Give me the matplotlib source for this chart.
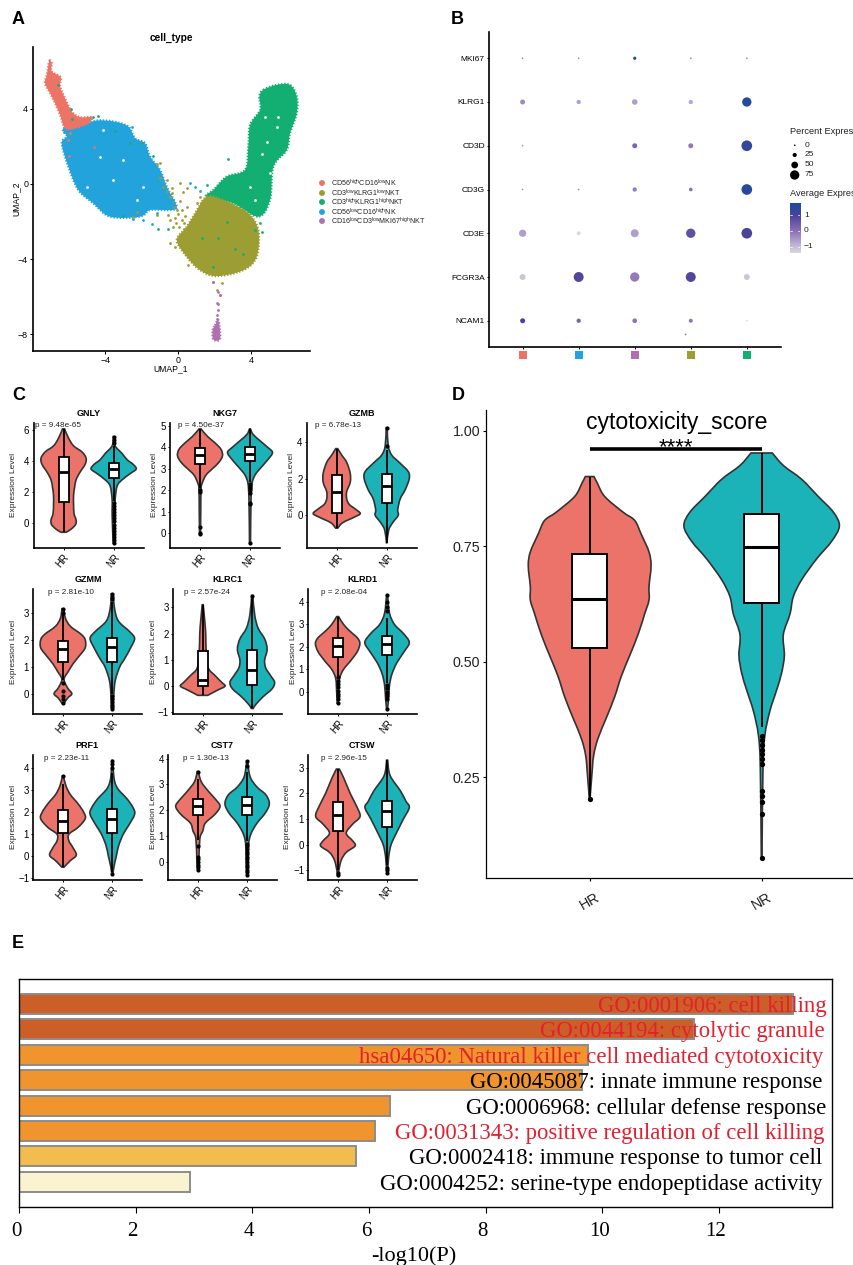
import numpy as np
import matplotlib
matplotlib.use("Agg")
import matplotlib.pyplot as plt
from matplotlib.path import Path
from matplotlib.patches import PathPatch, Rectangle
from matplotlib.colors import LinearSegmentedColormap
from matplotlib.transforms import ScaledTranslation

plt.rcParams["font.family"] = ["Liberation Sans", "DejaVu Sans"]
plt.rcParams["mathtext.default"] = "regular"

W, H = 854, 1265
SALMON = "#EC7369"
TEAL = "#1BB3B8"

cell_types = ["CD56$^{high}$CD16$^{low}$NK", "CD3$^{low}$KLRG1$^{low}$NKT", "CD3$^{high}$KLRG1$^{high}$NKT",
              "CD56$^{low}$CD16$^{high}$NK", "CD16$^{low}$CD3$^{low}$MKI67$^{high}$NKT"]
type_colors = ["#EC7467", "#9C9D33", "#13AF72", "#22A3DC", "#B06FAE"]

red_hull = [(-7.07, 6.57), (-6.94, 6.44), (-6.94, 6.0), (-6.45, 5.69), (-6.48, 5.2), (-6.21, 4.57), (-5.84, 3.86),
            (-5.38, 3.56), (-4.74, 3.56), (-4.93, 3.24), (-5.66, 2.97), (-6.21, 2.97), (-6.48, 3.68), (-6.76, 4.31),
            (-7.03, 4.84), (-7.31, 5.37), (-7.22, 5.77), (-7.16, 6.09)]
blue_hull = [(-6.3, 2.97), (-5.29, 3.15), (-4.47, 3.38), (-3.55, 3.33), (-2.73, 3.06), (-2.36, 2.44), (-1.81, 2.17),
             (-1.54, 1.46), (-0.99, 0.75), (-0.62, -0.14), (-0.07, -1.21), (-0.44, -1.39), (-1.54, -1.39),
             (-2.09, -1.74), (-3.74, -1.74), (-4.65, -1.03), (-5.48, -0.32), (-6.03, 0.93), (-6.39, 2.17), (-6.12, 2.53)]
green_hull = [(4.69, 5.02), (5.42, 5.28), (6.15, 5.28), (6.52, 4.66), (6.52, 3.77), (6.15, 2.7), (5.97, 1.81),
              (5.24, 0.93), (5.05, -0.85), (4.41, -1.74), (3.04, -1.03), (1.58, -0.68), (1.94, -0.32), (2.67, 0.39),
              (3.68, 0.75), (3.86, 1.99), (3.96, 3.15), (4.51, 3.95), (4.47, 4.66)]
olive_hull = [(1.58, -0.68), (2.67, -0.94), (3.86, -1.57), (4.41, -2.46), (4.32, -3.88), (3.59, -4.59), (2.12, -4.91),
              (1.21, -4.59), (0.48, -3.88), (-0.07, -2.99), (0.48, -2.28), (0.93, -1.57)]
purple_hull = [(2.03, -7.53), (2.22, -7.26), (2.31, -8.24), (1.94, -8.29), (1.9, -7.79)]

olive_cells = [(-0.62, 0.21), (-0.99, 1.1), (-0.81, -0.14), (-0.35, -0.23), (0.11, 0.07), (0.48, -0.23), (0.29, -0.41),
               (-0.44, -0.68), (-0.07, -1.39), (0.48, -1.21), (1.03, -1.03), (1.21, -0.68), (-1.17, -1.65),
               (-2.45, -1.74), (-2.27, -1.48), (-0.44, -3.17), (-0.16, -3.35), (0.57, -4.32), (1.94, -5.21),
               (2.4, -5.27), (2.12, -5.66), (2.31, -5.93), (-0.44, -1.92), (-0.26, -2.28), (-0.53, -1.65),
               (-0.99, 0.3), (-2.0, 2.17), (-1.17, 1.07), (-0.3, -0.9), (0.0, -1.6), (0.2, -1.9), (-0.1, -2.1),
               (0.3, -2.4), (-0.35, -0.5), (0.1, -0.9), (0.2, -1.4), (0.4, -1.7), (-0.15, -1.8), (0.05, -2.3),
               (-0.25, -1.2), (0.35, -2.1), (-0.6, -0.4)]
green_cells = [(2.73, 1.32), (-6.58, 5.28), (-5.9, 4.0), (-5.84, 3.45), (-4.65, 3.59), (-4.38, 3.63), (-3.46, 2.85),
               (-2.64, 2.17), (-2.0, 2.21), (-1.39, 1.51), (-3.0, -1.71), (1.3, -2.9), (2.22, -2.9), (1.94, -4.41),
               (3.13, -3.49), (3.59, -3.74), (4.51, -2.1), (4.6, -2.54), (4.23, -2.46), (1.58, -0.05), (2.67, -2.01),
               (-1.08, -2.42), (-0.53, -2.42)]
blue_cells = [(0.66, 0.07), (1.21, -0.36), (0.93, -0.14), (-0.26, -0.85), (-0.62, -1.3), (-1.45, -2.14), (-1.9, -1.92),
              (-2.45, -1.87), (-0.44, -1.03), (-0.81, -0.68), (-1.17, -1.57), (-2.55, 3.06), (-6.26, 2.79)]
red_cells = [(-4.6, 1.99), (-5.99, 1.49), (-6.03, 2.35), (-5.93, 2.7)]
purple_cells = [(1.94, -5.21), (2.22, -5.75), (2.31, -5.93), (2.12, -6.33), (2.22, -6.37), (2.22, -6.73), (2.16, -6.99),
                (2.16, -7.22)]
gap_cells = [(5.42, 3.06), (4.87, 2.26), (4.6, 1.58), (5.05, 0.57), (3.96, -0.14), (5.51, 3.59), (4.23, -0.85),
             (4.78, 3.59), (-2.27, -0.85), (-3.55, 0.21), (-4.29, 1.46), (-5.02, -0.14), (-1.92, -0.14), (-4.12, 2.88),
             (-3.0, 1.28)]

# ---- panel B
dot_genes = ["NCAM1", "FCGR3A", "CD3E", "CD3G", "CD3D", "KLRG1", "MKI67"]
dot_colors = ["#EC7467", "#22A3DC", "#B06FAE", "#9C9D33", "#13AF72"]
dot_pct = [[33, 26, 30, 23, 1],
           [42, 81, 75, 81, 42],
           [55, 23, 62, 75, 88],
           [1, 1, 26, 20, 88],
           [1, np.nan, 33, 33, 88],
           [33, 26, 39, 26, 75],
           [1, 1, 16, 1, 1]]
dot_avg = [[1.2, 0.3, 0.0, 0.0, -1.4],
           [-1.1, 0.9, -0.1, 0.9, -1.1],
           [-0.6, -1.4, -0.6, 0.7, 1.0],
           [-0.4, -0.3, -0.1, 0.0, 1.6],
           [-0.5, np.nan, 0.3, -0.1, 1.4],
           [-0.3, -0.6, -0.6, -0.7, 1.6],
           [-0.3, -0.3, 1.7, -0.3, -0.3]]
stray_dot = (2.9, -0.3, 1, 0.0)
pct_legend = [0, 25, 50, 75]
avg_colors = ["#D9D9D9", "#C6BCDA", "#8E73B5", "#4B429A", "#1C4DA0"]

# ---- panel C, violin profiles: value, half width
gnly_hr = [(6.1, .02), (5.5, .1), (5.0, .2), (4.6, .37), (4.2, .45), (3.8, .43), (3.3, .33), (2.8, .25), (2.3, .22),
           (1.8, .2), (1.2, .2), (0.6, .21), (0.2, .25), (-0.1, .24), (-0.4, .15), (-0.6, .05)]
gnly_nr = [(5.6, .007), (5.0, .03), (4.5, .17), (4.1, .27), (3.8, .39), (3.5, .45), (3.2, .33), (2.8, .17), (2.4, .07),
           (1.5, .03), (0.5, .03), (-1.3, .01)]
gnly_hr_box = [-0.6, 1.35, 3.3, 4.3, 6.1]
gnly_nr_box = [1.4, 2.9, 3.5, 3.9, 5.0]
gnly_hr_out = []
gnly_nr_out = [5.6, 5.4, 5.2, 1.3, 1.1, .9, .7, .5, .3, .1, -.1, -.3, -.5, -.7, -.9, -1.1, -1.3]

nkg7_hr = [(4.85, .02), (4.5, .15), (4.2, .3), (3.9, .42), (3.6, .45), (3.3, .38), (3.0, .25), (2.7, .12), (2.3, .04),
           (2.0, .02), (1.0, .015), (0.0, .01)]
nkg7_nr = [(4.85, .01), (4.6, .06), (4.3, .2), (4.0, .35), (3.75, .45), (3.4, .35), (3.0, .2), (2.7, .1), (2.3, .04),
           (1.5, .02), (-0.45, .01)]
nkg7_hr_box = [2.1, 3.2, 3.65, 3.95, 4.85]
nkg7_nr_box = [2.4, 3.35, 3.7, 4.0, 4.85]
nkg7_hr_out = [2.0, 1.9, 0.3, 0.0, -0.05]
nkg7_nr_out = [2.3, 2.2, 2.1, 2.0, 1.85, 1.4, 1.35, -0.45]

gzmb_hr = [(3.65, .02), (3.3, .1), (2.9, .2), (2.3, .27), (1.8, .27), (1.3, .2), (0.9, .2), (0.6, .25), (0.35, .37),
           (0.1, .47), (-0.1, .35), (-0.4, .12), (-0.7, .02)]
gzmb_nr = [(4.8, .01), (3.8, .03), (3.3, .1), (2.9, .25), (2.4, .43), (2.0, .45), (1.4, .37), (0.9, .27), (0.3, .22),
           (0.0, .23), (-0.4, .12), (-0.8, .04), (-1.5, .005)]
gzmb_hr_box = [-0.7, 0.15, 1.3, 2.2, 3.65]
gzmb_nr_box = [-1.5, 0.65, 1.6, 2.25, 3.6]
gzmb_hr_out = []
gzmb_nr_out = [4.8, 3.8]

gzmm_hr = [(3.15, .02), (2.8, .05), (2.5, .15), (2.2, .37), (2.0, .45), (1.7, .45), (1.4, .33), (1.1, .2), (0.8, .1),
           (0.6, .03), (0.45, .03), (0.2, .1), (0.0, .18), (-0.15, .1), (-0.35, .02)]
gzmm_nr = [(3.7, .02), (3.2, .04), (2.7, .12), (2.3, .35), (2.05, .45), (1.7, .37), (1.3, .25), (1.0, .15), (0.5, .06),
           (0.0, .03), (-0.5, .02)]
gzmm_hr_box = [0.5, 1.17, 1.65, 1.97, 2.9]
gzmm_nr_box = [0.0, 1.17, 1.72, 2.08, 3.4]
gzmm_hr_out = [3.0, 3.15, 0.4, 0.1, -0.1, -0.2, -0.35]
gzmm_nr_out = [3.7, 3.6, 3.5, -0.1, -0.2, -0.3, -0.4, -0.5, -0.55]

klrc1_hr = [(3.1, .01), (2.5, .04), (2.0, .06), (1.3, .07), (0.7, .11), (0.4, .25), (0.15, .38), (0.0, .45), (-0.15, .3),
            (-0.35, .1)]
klrc1_nr = [(3.45, .01), (2.7, .05), (2.2, .12), (1.8, .25), (1.4, .3), (1.0, .25), (0.7, .27), (0.4, .37), (0.15, .45),
            (-0.1, .4), (-0.4, .22), (-0.7, .07), (-0.85, .02)]
klrc1_hr_box = [-0.35, 0.0, 0.22, 1.35, 3.1]
klrc1_nr_box = [-0.85, 0.03, 0.62, 1.37, 3.45]
klrc1_hr_out = []
klrc1_nr_out = [3.45]

klrd1_hr = [(3.35, .02), (3.0, .12), (2.7, .25), (2.4, .4), (2.15, .45), (1.8, .4), (1.4, .27), (1.0, .12), (0.6, .04),
            (0.0, .02), (-0.5, .01)]
klrd1_nr = [(4.3, .01), (3.5, .05), (3.0, .15), (2.6, .33), (2.2, .45), (1.8, .35), (1.3, .2), (0.8, .1), (0.3, .05),
            (-0.3, .03), (-0.75, .01)]
klrd1_hr_box = [0.7, 1.57, 2.05, 2.4, 3.35]
klrd1_nr_box = [0.4, 1.63, 2.12, 2.5, 3.3]
klrd1_hr_out = [.65, .5, .35, .2, .05, -.1, -.2, -.3, -.5]
klrd1_nr_out = [4.3, 4.0, 3.8, 3.6, .3, .15, 0, -.1, -.2, -.3, -.75]

prf1_hr = [(3.65, .01), (3.2, .06), (2.8, .15), (2.4, .3), (2.0, .42), (1.7, .45), (1.3, .3), (1.0, .12), (0.7, .12),
           (0.4, .2), (0.05, .27), (-0.2, .15), (-0.5, .02)]
prf1_nr = [(4.35, .01), (3.6, .03), (3.1, .1), (2.6, .3), (2.2, .42), (1.9, .45), (1.4, .33), (1.0, .22), (0.5, .13),
           (0.0, .08), (-0.5, .03), (-0.85, .01)]
prf1_hr_box = [-0.5, 1.07, 1.62, 2.08, 3.3]
prf1_nr_box = [-0.7, 1.05, 1.68, 2.15, 3.8]
prf1_hr_out = [3.65]
prf1_nr_out = [4.35, 4.2, 4.0, -0.8]

cst7_hr = [(3.5, .01), (3.1, .07), (2.7, .23), (2.4, .37), (2.15, .45), (1.85, .35), (1.5, .15), (1.2, .1), (0.9, .04),
           (0.0, .02), (-0.3, .01)]
cst7_nr = [(3.9, .01), (3.3, .06), (2.9, .2), (2.6, .38), (2.25, .45), (1.9, .37), (1.5, .2), (1.1, .08), (0.7, .03),
           (0.0, .02), (-0.5, .01)]
cst7_hr_box = [0.85, 1.8, 2.15, 2.45, 3.2]
cst7_nr_box = [0.8, 1.8, 2.2, 2.5, 3.5]
cst7_hr_out = [3.5, 0.6, 0.2, 0.1, 0.0, -0.1, -0.2, -0.3]
cst7_nr_out = [3.9, 3.7, .7, .6, .5, .4, .3, .2, .1, 0, -.1, -.2, -.3, -.4, -.5]

ctsw_hr = [(2.95, .03), (2.6, .12), (2.0, .25), (1.5, .38), (1.1, .45), (0.8, .3), (0.45, .17), (0.15, .3), (-0.05, .35),
           (-0.3, .17), (-0.6, .07), (-1.0, .02), (-1.2, .01)]
ctsw_nr = [(3.3, .01), (2.7, .06), (2.1, .27), (1.7, .38), (1.45, .45), (1.0, .33), (0.5, .2), (0.0, .08), (-0.5, .03),
           (-1.1, .01)]
ctsw_hr_box = [-1.0, 0.53, 1.15, 1.65, 2.95]
ctsw_nr_box = [-0.8, 0.7, 1.3, 1.72, 3.3]
ctsw_hr_out = [-1.1, -1.2]
ctsw_nr_out = [-0.9, -1.0, -1.1]

gene_titles = ["GNLY", "NKG7", "GZMB", "GZMM", "KLRC1", "KLRD1", "PRF1", "CST7", "CTSW"]
gene_p = ["p = 9.48e-65", "p = 4.50e-37", "p = 6.78e-13", "p = 2.81e-10", "p = 2.57e-24", "p = 2.08e-04",
          "p = 2.23e-11", "p = 1.30e-13", "p = 2.96e-15"]
gene_ylim = [(-1.6, 6.5), (-0.68, 5.14), (-1.77, 5.07), (-0.75, 3.88), (-1.06, 3.7), (-0.99, 4.58), (-1.08, 4.6),
             (-0.7, 4.14), (-1.38, 3.5)]
gene_ticks = [[0, 2, 4, 6], [0, 1, 2, 3, 4, 5], [0, 2, 4], [0, 1, 2, 3], [-1, 0, 1, 2, 3], [0, 1, 2, 3, 4],
              [-1, 0, 1, 2, 3, 4], [0, 1, 2, 3, 4], [-1, 0, 1, 2, 3]]
gene_hr = [gnly_hr, nkg7_hr, gzmb_hr, gzmm_hr, klrc1_hr, klrd1_hr, prf1_hr, cst7_hr, ctsw_hr]
gene_nr = [gnly_nr, nkg7_nr, gzmb_nr, gzmm_nr, klrc1_nr, klrd1_nr, prf1_nr, cst7_nr, ctsw_nr]
gene_hr_box = [gnly_hr_box, nkg7_hr_box, gzmb_hr_box, gzmm_hr_box, klrc1_hr_box, klrd1_hr_box, prf1_hr_box, cst7_hr_box, ctsw_hr_box]
gene_nr_box = [gnly_nr_box, nkg7_nr_box, gzmb_nr_box, gzmm_nr_box, klrc1_nr_box, klrd1_nr_box, prf1_nr_box, cst7_nr_box, ctsw_nr_box]
gene_hr_out = [gnly_hr_out, nkg7_hr_out, gzmb_hr_out, gzmm_hr_out, klrc1_hr_out, klrd1_hr_out, prf1_hr_out, cst7_hr_out, ctsw_hr_out]
gene_nr_out = [gnly_nr_out, nkg7_nr_out, gzmb_nr_out, gzmm_nr_out, klrc1_nr_out, klrd1_nr_out, prf1_nr_out, cst7_nr_out, ctsw_nr_out]

# ---- panel D
score_hr = [(.901, .025), (.888, .043), (.858, .087), (.824, .194), (.806, .262), (.776, .30), (.738, .345), (.708, .357),
            (.663, .345), (.634, .345), (.604, .32), (.559, .281), (.514, .233), (.469, .184), (.424, .145), (.379, .097),
            (.334, .048), (.297, .023), (.252, .012), (.204, .002)]
score_nr = [(.952, .062), (.925, .126), (.895, .233), (.858, .329), (.824, .417), (.794, .452), (.761, .407), (.723, .32),
            (.678, .233), (.641, .184), (.604, .165), (.559, .126), (.514, .132), (.476, .116), (.439, .087), (.394, .048),
            (.342, .019), (.275, .008), (.076, .002)]
score_hr_box = [.204, .531, .637, .733, .901]
score_nr_box = [.36, .628, .749, .819, .952]
score_hr_out = [.204]
score_nr_out = [.34, .33, .32, .31, .30, .29, .28, .22, .21, .196, .172, .076]

# ---- panel E
terms = ["GO:0001906: cell killing", "GO:0044194: cytolytic granule", "hsa04650: Natural killer cell mediated cytotoxicity",
         "GO:0045087: innate immune response", "GO:0006968: cellular defense response",
         "GO:0031343: positive regulation of cell killing", "GO:0002418: immune response to tumor cell",
         "GO:0004252: serine-type endopeptidase activity"]
log_p = [13.27, 11.58, 9.75, 9.65, 6.36, 6.1, 5.78, 2.93]
bar_colors = ["#CC5F28", "#CC5F28", "#F0952E", "#F0952E", "#F0952E", "#F0952E", "#F2BC4F", "#F9F3D2"]
term_colors = ["#E5202E", "#E5202E", "#E5202E", "black", "black", "#E5202E", "black", "black"]
term_right = [13.84, 13.81, 13.79, 13.77, 13.84, 13.81, 13.77, 13.77]


def axes_px(l, t, r, b):
    return fig.add_axes([l / W, 1 - b / H, (r - l) / W, (b - t) / H])


def clean(ax, lw=1.0):
    for s in ["top", "right"]:
        ax.spines[s].set_visible(False)
    for s in ["left", "bottom"]:
        ax.spines[s].set_linewidth(lw)


def curve_through(pts, closed=False):
    # bezier segments through every read point
    p = np.array(pts, dtype=float)
    n = len(p)
    verts = []
    last = n if closed else n - 1
    for i in range(last):
        if closed:
            a, b, c, d = p[(i - 1) % n], p[i], p[(i + 1) % n], p[(i + 2) % n]
        else:
            a, b, c, d = p[max(i - 1, 0)], p[i], p[i + 1], p[min(i + 2, n - 1)]
        verts += [tuple(b + (c - a) / 6), tuple(c - (d - b) / 6), tuple(c)]
    return verts


def violin_path(c, prof):
    right = [(c + w, y) for y, w in prof]
    left = [(c - w, y) for y, w in prof][::-1]
    verts = [right[0]] + curve_through(right) + [left[0]] + curve_through(left) + [right[0]]
    codes = [Path.MOVETO] + [Path.CURVE4] * (3 * (len(right) - 1)) + [Path.LINETO] + [Path.CURVE4] * (3 * (len(left) - 1)) + [Path.CLOSEPOLY]
    return Path(verts, codes)


def hull_path(hull):
    segs = curve_through(hull, closed=True)
    verts = [segs[-1]] + segs
    codes = [Path.MOVETO] + [Path.CURVE4] * len(segs)
    return Path(verts, codes)


def violin(ax, c, prof, box, out, color, lw, box_w, box_lw, med_lw, ms):
    ax.add_patch(PathPatch(violin_path(c, prof), facecolor=color, edgecolor="#333333", lw=lw, zorder=2))
    lo, q1, med, q3, hi = box
    ax.plot([c, c], [lo, hi], color="black", lw=box_lw, zorder=3, solid_capstyle="butt")
    if len(out) > 0:
        ax.plot([c] * len(out), out, "o", color="black", ms=ms, mew=0, zorder=3)
    ax.add_patch(Rectangle((c - box_w / 2, q1), box_w, q3 - q1, facecolor="white", edgecolor="black", lw=box_lw, zorder=4))
    ax.plot([c - box_w / 2, c + box_w / 2], [med, med], color="black", lw=med_lw, zorder=5, solid_capstyle="butt")


fig = plt.figure(figsize=(W / 100, H / 100), dpi=100)

# ---- A
ax = axes_px(33, 47, 310, 351)
hulls = [(blue_hull, type_colors[3]), (red_hull, type_colors[0]), (green_hull, type_colors[2]),
         (olive_hull, type_colors[1]), (purple_hull, type_colors[4])]
for hull, col in hulls:
    ax.add_patch(PathPatch(hull_path(hull), facecolor=col, edgecolor=col, lw=1.6, ls=(0, (0.6, 0.8)), zorder=2))
cells = [(olive_cells, type_colors[1]), (blue_cells, type_colors[3]), (green_cells, type_colors[2]),
         (red_cells, type_colors[0]), (purple_cells, type_colors[4]), (gap_cells, "white")]
for pts, col in cells:
    ax.scatter([p[0] for p in pts], [p[1] for p in pts], s=4, color=col, linewidths=0, zorder=3)
ax.set_xlim(-7.97, 7.25)
ax.set_ylim(-8.9, 7.3)
ax.set_xticks([-4, 0, 4])
ax.set_yticks([-8, -4, 0, 4])
ax.tick_params(labelsize=6.4, length=2, width=0.7, pad=1.5)
clean(ax, 1.2)

# ---- B
ax = axes_px(489, 32, 781, 347)
cols, rows = np.meshgrid(np.arange(5), np.arange(7))
pct = np.array(dot_pct, dtype=float)
avg = np.array(dot_avg, dtype=float)
avg_cmap = LinearSegmentedColormap.from_list("avg", list(zip([0, .12, .43, .75, 1], avg_colors)))


def pct_size(p):
    return (np.asarray(p, dtype=float) * 0.103 + 1.6) ** 2 * 0.72 ** 2


ax.scatter(cols.ravel(), rows.ravel(), s=pct_size(pct.ravel()), c=avg.ravel(), cmap=avg_cmap, vmin=-1.38, vmax=1.8, linewidths=0)
ax.scatter([stray_dot[0]], [stray_dot[1]], s=pct_size(stray_dot[2]), c=[stray_dot[3]], cmap=avg_cmap, vmin=-1.38, vmax=1.8, linewidths=0)
ax.scatter(np.arange(5), [-0.78] * 5, marker="s", s=33, c=dot_colors, linewidths=0, clip_on=False)
ax.set_xlim(-0.6, 4.61)
ax.set_ylim(-0.6, 6.6)
ax.set_xticks(np.arange(5))
ax.set_xticklabels([])
ax.set_yticks(np.arange(7))
ax.set_yticklabels(dot_genes)
ax.tick_params(labelsize=6, length=1.5, width=0.7, pad=1.5)
clean(ax, 1.2)

cb = axes_px(789.7, 202.7, 800.3, 252.7)
cb.imshow(np.linspace(1.8, -1.38, 100).reshape(-1, 1), aspect="auto", cmap=avg_cmap, vmin=-1.38, vmax=1.8,
          extent=[0, 1, -1.38, 1.8])
cb.set_xticks([])
cb.set_yticks([])
for s in cb.spines.values():
    s.set_visible(False)
for t in [-1, 0, 1]:
    cb.plot([0, .2], [t, t], color="white", lw=0.5)
    cb.plot([.8, 1], [t, t], color="white", lw=0.5)
cb.set_xlim(0, 1)
cb.set_ylim(-1.38, 1.8)

# ---- C
boxes = [(33.5, 422.7, 143.7, 547.7), (170, 422.7, 280, 547.7), (306.7, 422.7, 416.7, 547.7),
         (33.3, 589, 142, 714), (173, 589, 282, 714), (308, 589, 416.7, 714),
         (33.3, 755, 142, 880), (168.3, 755, 276.7, 880), (308.3, 755, 416.7, 880)]
title_xy = [(88.3, 413.7), (225, 413.7), (361.7, 413.7), (88, 580), (227.3, 580), (362, 580), (87.3, 746), (222.3, 746), (362.3, 746)]
p_xy = [(35, 425.7), (178.3, 425.7), (315, 425.7), (48.3, 592.3), (183.7, 592.3), (320.7, 592.3), (43.7, 758.3), (182.7, 758.3), (320.7, 758.3)]
label_xy = [(13.3, 485), (155, 485), (291.7, 485), (13.3, 651.7), (153.3, 651.7), (293.3, 651.7), (13.3, 817), (153.3, 817), (288, 817)]

for i in range(9):
    ax = axes_px(*boxes[i])
    violin(ax, 0, gene_hr[i], gene_hr_box[i], gene_hr_out[i], SALMON, 1.2, 0.2, 1.3, 2.0, 3.0)
    violin(ax, 1, gene_nr[i], gene_nr_box[i], gene_nr_out[i], TEAL, 1.2, 0.2, 1.3, 2.0, 3.0)
    ax.set_xlim(-0.6, 1.6)
    ax.set_ylim(*gene_ylim[i])
    ax.set_xticks([0, 1])
    ax.set_xticklabels(["HR", "NR"], rotation=50, ha="right", rotation_mode="anchor")
    ax.set_yticks(gene_ticks[i])
    ax.tick_params(labelsize=7, length=1.5, width=0.7, pad=1.5)
    clean(ax, 1.2)

# ---- D
ax = axes_px(486.3, 410, 854, 878)
violin(ax, 0, score_hr, score_hr_box, score_hr_out, SALMON, 1.2, 0.2, 1.4, 2.2, 3.8)
violin(ax, 1, score_nr, score_nr_box, score_nr_out, TEAL, 1.2, 0.2, 1.4, 2.2, 3.8)
ax.plot([0, 1], [.96, .96], color="black", lw=2.6, solid_capstyle="butt", zorder=6)
ax.set_xlim(-0.601, 1.537)
ax.set_ylim(0.0325, 1.045)
ax.set_xticks([0, 1])
ax.set_xticklabels(["HR", "NR"], rotation=30)
ax.set_yticks([.25, .5, .75, 1.0])
ax.set_yticklabels(["0.25", "0.50", "0.75", "1.00"])
ax.tick_params(labelsize=10.3, length=2.5, width=0.8, pad=2, labelcolor="#222222")
ax.tick_params(axis="x", pad=6)
clean(ax, 0.9)

# ---- E
ax = axes_px(19, 979, 832, 1207)
ax.barh(np.arange(8), log_p, height=0.79, color=bar_colors, edgecolor="#8C8C8C", lw=1.4, zorder=2)
for i in range(8):
    ax.text(term_right[i], i + 0.1, terms[i], ha="right", va="center", color=term_colors[i], family="Liberation Serif", fontsize=16.4, zorder=3)
ax.set_xlim(0, 13.94)
ax.set_ylim(7.99, -0.98)
ax.set_yticks([])
ax.set_xticks([0, 2, 4, 6, 8, 10, 12])
ax.tick_params(axis="x", length=4, width=0.8, pad=7)
shift = ScaledTranslation(-3 / 100, 0, fig.dpi_scale_trans)
for t in ax.get_xticklabels():
    t.set_family("Liberation Serif")
    t.set_fontsize(15)
    t.set_transform(t.get_transform() + shift)
for s in ax.spines.values():
    s.set_linewidth(1.0)

# ---- page level text
page = fig.add_axes([0, 0, 1, 1], zorder=10)
page.set_xlim(0, W)
page.set_ylim(H, 0)
page.axis("off")
page.patch.set_alpha(0)

for letter, x, y in [("A", 12, 20), ("B", 451, 19), ("C", 12, 395), ("D", 452, 395), ("E", 12, 944)]:
    page.text(x, y, letter, fontsize=13, fontweight="bold", ha="left", va="center")

page.text(171, 38, "cell_type", fontsize=7.3, fontweight="bold", ha="center", va="center")
page.text(171, 369, "UMAP_1", fontsize=6.2, ha="center", va="center")
page.text(16, 198.7, "UMAP_2", fontsize=6.2, rotation=90, ha="center", va="center")
legend_y = [183, 193, 202, 212, 221]
page.scatter([322] * 5, legend_y, s=18, c=type_colors, linewidths=0)
for i in range(5):
    page.text(331, legend_y[i], cell_types[i], fontsize=5.1, ha="left", va="center", color="#222222")

page.text(790, 131, "Percent Expres", fontsize=6.7, ha="left", va="center", color="#222222")
page.text(790, 194, "Average Expres", fontsize=6.7, ha="left", va="center", color="#222222")
legend_dot_y = [145.3, 155, 165, 175]
page.scatter([794.7] * 4, legend_dot_y, s=pct_size(pct_legend), color="black", linewidths=0)
for i in range(4):
    page.text(805, legend_dot_y[i], str(pct_legend[i]), fontsize=6, ha="left", va="center", color="#222222")
for val, y in [("1", 215.3), ("0", 231), ("\u22121", 246.7)]:
    page.text(804, y, val, fontsize=6, ha="left", va="center", color="#222222")

for i in range(9):
    page.text(title_xy[i][0], title_xy[i][1], gene_titles[i], fontsize=6.5, fontweight="bold", ha="center", va="center")
    page.text(p_xy[i][0], p_xy[i][1], gene_p[i], fontsize=5.9, ha="left", va="center", color="#222222")
    page.text(label_xy[i][0], label_xy[i][1], "Expression Level", fontsize=6, rotation=90, ha="center", va="center", color="#222222")

page.text(677, 422, "cytotoxicity_score", fontsize=16.6, ha="center", va="center")
page.text(675.7, 448, "****", fontsize=16, ha="center", va="center")
page.text(413.6, 1256, "-log10(P)", fontsize=16, family="Liberation Serif", ha="center", va="center")

fig.savefig("out.png", dpi=100)
